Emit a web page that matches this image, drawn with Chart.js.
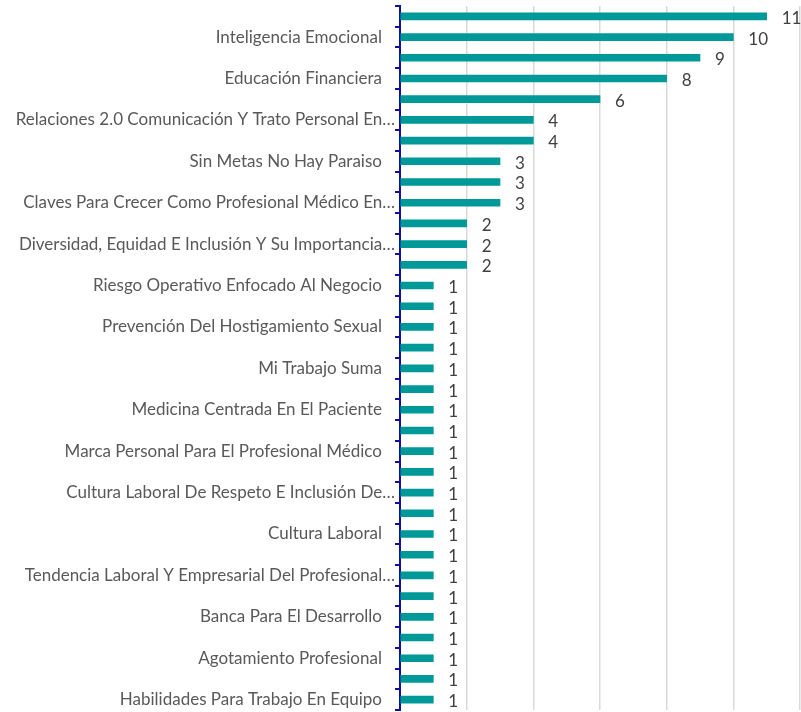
<!DOCTYPE html>
<html>
<head>
<meta charset="utf-8">
<script src="https://cdn.jsdelivr.net/npm/chart.js@4.4.1/dist/chart.umd.min.js"></script>
<style>
  html, body { margin: 0; padding: 0; background: #fff; }
  #wrap { width: 801px; height: 712px; position: relative; }
</style>
</head>
<body>
<div id="wrap"><canvas id="cursosChart"></canvas></div>
<script>
// Cursos - only every second name is printed in the picture, the others are left blank
const cursos = [
  '', 'Inteligencia Emocional', '', 'Educación Financiera', '',
  'Relaciones 2.0 Comunicación Y Trato Personal En…', '', 'Sin Metas No Hay Paraiso', '',
  'Claves Para Crecer Como Profesional Médico En…', '', 'Diversidad, Equidad E Inclusión Y Su Importancia…', '',
  'Riesgo Operativo Enfocado Al Negocio', '', 'Prevención Del Hostigamiento Sexual', '',
  'Mi Trabajo Suma', '', 'Medicina Centrada En El Paciente', '',
  'Marca Personal Para El Profesional Médico', '', 'Cultura Laboral De Respeto E Inclusión De…', '',
  'Cultura Laboral', '', 'Tendencia Laboral Y Empresarial Del Profesional…', '',
  'Banca Para El Desarrollo', '', 'Agotamiento Profesional', '',
  'Habilidades Para Trabajo En Equipo'
];
const participantes = [
  11, 10, 9, 8, 6, 4, 4, 3, 3, 3, 2, 2, 2,
  1, 1, 1, 1, 1, 1, 1, 1, 1, 1, 1, 1, 1, 1, 1, 1, 1, 1, 1, 1, 1
];
const ejeMax = 12;

const FONT = 'Lato, Calibri, Carlito, sans-serif';

// etiquetas de valor a la derecha de cada barra
const valorLabels = {
  id: 'valorLabels',
  afterDatasetsDraw(chart) {
    const ctx = chart.ctx;
    const meta = chart.getDatasetMeta(0);
    ctx.save();
    ctx.font = '17px ' + FONT;
    ctx.fillStyle = '#404040';
    ctx.textAlign = 'left';
    ctx.textBaseline = 'middle';
    meta.data.forEach((bar, i) => {
      ctx.fillText(String(participantes[i]), bar.x + 15, bar.y + 2);
    });
    ctx.restore();
  }
};

new Chart(document.getElementById('cursosChart'), {
  type: 'bar',
  data: {
    labels: cursos,
    datasets: [{
      data: participantes,
      backgroundColor: '#009999',
      barThickness: 7,
    }],
  },
  options: {
    indexAxis: 'y',
    responsive: true,
    maintainAspectRatio: false,
    animation: false,
    layout: { padding: { top: 6, bottom: 2, left: 0, right: 1 } },
    plugins: { legend: { display: false }, tooltip: { enabled: false } },
    scales: {
      x: {
        min: 0, max: ejeMax,
        ticks: { display: false, stepSize: 2 },
        grid: { color: '#d9d9d9', lineWidth: 1.5, drawTicks: false },
        border: { display: false },
        afterFit: (s) => { s.height = 0; s.paddingLeft = 0; s.paddingRight = 0; },
      },
      y: {
        ticks: {
          autoSkip: false,
          padding: 0,
          color: '#595959',
          font: { family: FONT, size: 17 },
          callback: function (v) {
            const t = this.getLabelForValue(v);
            return t && !t.endsWith('…') ? t + '   ' : t;
          },
        },
        grid: { drawOnChartArea: false, color: '#10109a', lineWidth: 2, tickLength: 5 },
        border: { color: '#10109a', width: 2 },
        afterFit: (s) => { s.width = 400; s.paddingTop = 0; s.paddingBottom = 0; },
      },
    },
  },
  plugins: [valorLabels],
});
</script>
</body>
</html>
